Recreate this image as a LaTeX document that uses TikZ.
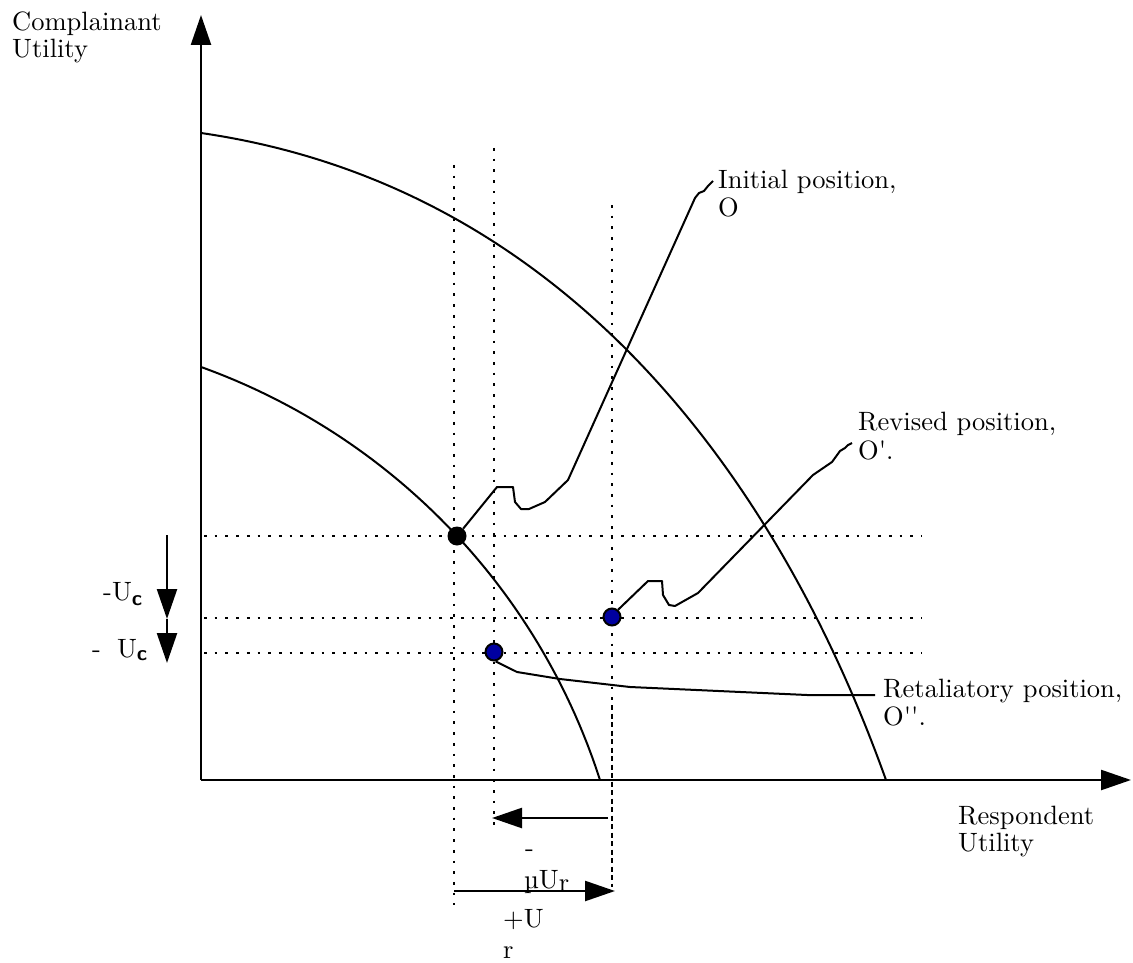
\documentclass[tikz,border=0pt]{standalone}
\usepackage{fontspec}
\setmainfont{lmroman10-regular.otf}[BoldFont=lmroman10-bold.otf]
\newfontfamily\straightq{lmroman10-regular.otf}[Ligatures=TeXOff]
\usetikzlibrary{arrows.meta}
\definecolor{dotblue}{RGB}{0,0,160}
\begin{document}
\begin{tikzpicture}[x=1pt,y=-1pt,
  lbl/.style={font=\fontsize{26.5}{28}\selectfont, inner sep=0pt, anchor=base west},
  curve/.style={line width=2pt},
  axisline/.style={line width=2.4pt, -{Triangle[length=30pt,width=20pt]}},
  guide/.style={line width=2.7pt, dash pattern=on 2.7pt off 8pt},
  guidedense/.style={line width=2.7pt, dash pattern=on 5pt off 3.5pt},
  conn/.style={line width=2pt, line join=round},
  arr/.style={line width=2.4pt, -{Triangle[length=30pt,width=20pt]}},
  bdot/.style={circle, fill=black, minimum size=19pt, inner sep=0pt},
  udot/.style={circle, fill=dotblue, draw=black, line width=2pt, minimum size=17pt, inner sep=0pt}]
\useasboundingbox (0,0) rectangle (1133,963);

% axes
\coordinate (O) at (201,780);
\coordinate (ytip) at (201,15);
\coordinate (xtip) at (1131,780);
\draw[axisline] (O) -- (ytip);
\draw[axisline] (O) -- (xtip);

% frontiers
\coordinate (outA) at (201,133);
\coordinate (outB) at (886,780);
\draw[curve] (outA) .. controls (560,185) and (775,470) .. (outB);
\draw[curve] plot[domain=-70.2:-17.8, samples=120] ({-19.3+650.5*cos(\x)},{979+650.5*sin(\x)});

% dotted guides
\coordinate (v1t) at (454,165); \coordinate (v1b) at (454,905);
\coordinate (v2t) at (494,148); \coordinate (v2b) at (494,825);
\coordinate (v3t) at (612,205); \coordinate (v3m) at (612,705); \coordinate (v3b) at (612,887);
\coordinate (h1l) at (204,536); \coordinate (h1r) at (922,536);
\coordinate (h2l) at (204,618); \coordinate (h2r) at (922,618);
\coordinate (h3l) at (204,653); \coordinate (h3r) at (922,653);
\draw[guide] (v1t) -- (v1b);
\draw[guide] (v2t) -- (v2b);
\draw[guide] (v3t) -- (v3m);
\draw[guidedense] (v3m) -- (v3b);
\draw[guide] (h1l) -- (h1r);
\draw[guide] (h2l) -- (h2r);
\draw[guide] (h3l) -- (h3r);

% positions
\node[bdot] (dO) at (457,536) {};
\node[udot] (dRev) at (612,617) {};
\node[udot] (dRet) at (494,652) {};

% labels
\node[lbl] (ylab1) at (12,31) {Complainant};
\node[lbl] (ylab2) at (12,58) {Utility};
\node[lbl] (xlab1) at (958,824) {Respondent};
\node[lbl] (xlab2) at (958,851) {Utility};
\node[lbl] (ini1) at (718,189) {Initial position,};
\node[lbl] (ini2) at (718,216) {O};
\node[lbl] (rev1) at (858,430) {Revised position,};
\node[lbl] (rev2) at (858,459) {O{\straightq '}.};
\node[lbl] (ret1) at (883,697) {Retaliatory position,};
\node[lbl] (ret2) at (883,725) {O{\straightq ''}.};

% callout connectors
\coordinate (iniEnd) at (713,181);
\coordinate (revEnd) at (852,443);
\coordinate (retEnd) at (875,695);
\draw[conn] (dO.50) -- (497,487) -- (513,487) -- (515,502) -- (521,509) -- (529,509) -- (545,502) -- (568,480)
  -- (695,198) -- (699,193) -- (704,191) -- (708,186) -- (iniEnd);
\draw[conn] (dRev.50) -- (648,581) -- (662,581) -- (663,595) -- (669,605) -- (675,606) -- (698,593)
  -- (813,475) -- (832,462) -- (840,451) -- (845,448) -- (848,445) -- (revEnd);
\draw[conn] (dRet.-80) -- (517,672) -- (560,679) -- (630,687) -- (807,695) -- (retEnd);

% utility change arrows (left)
\coordinate (a1s) at (167,535);
\coordinate (a1e) at (167,619);
\coordinate (a2e) at (167,663);
\draw[arr] (a1s) -- (a1e);
\draw[arr] (a1e) -- (a2e);
\node[lbl] (uc1) at (103,600) {-U\raisebox{-5pt}{\fontsize{21}{21}\sffamily\bfseries c}};
\node[lbl] (uc2) at (92,657) {-\hspace{16pt}U\raisebox{-3pt}{\fontsize{21}{21}\sffamily\bfseries c}};

% utility change arrows (bottom)
\coordinate (b1s) at (608,818);
\coordinate (b1e) at (492,818);
\coordinate (b2s) at (454,891);
\coordinate (b2e) at (615,891);
\draw[arr] (b1s) -- (b1e);
\draw[arr] (b2s) -- (b2e);
\node[lbl] (mu0) at (525,856) {-};
\node[lbl] (mu1) at (524,888) {\textmu U\raisebox{-3pt}{r}};
\node[lbl] (pu1) at (503,927) {+U};
\node[lbl] (pu2) at (503,958) {r};
\end{tikzpicture}
\end{document}
